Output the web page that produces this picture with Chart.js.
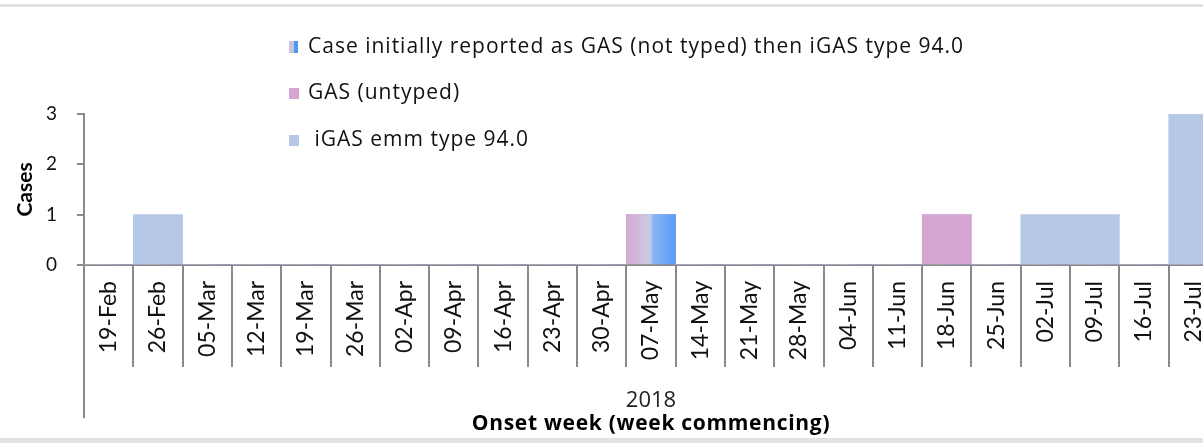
<!DOCTYPE html>
<html lang="en">
  <head>
    <meta charset="UTF-8" />
    <title>iGAS emm type 94.0 cases by onset week</title>
    <script src="https://cdn.jsdelivr.net/npm/chart.js"></script>
    <style>
      html,
      body {
        margin: 0;
        padding: 0;
        overflow: hidden;
        background: #fff;
      }
      .frame {
        position: relative;
        width: 1203px;
        height: 443px;
        overflow: hidden;
      }
      .frame::before,
      .frame::after {
        content: "";
        position: absolute;
        left: 0;
        right: 0;
        height: 3px;
        background: #e2e2e2;
        z-index: 2;
      }
      .frame::before {
        top: 4px;
      }
      .frame::after {
        top: 438px;
        height: 5px;
      }
      #chart-cases {
        position: absolute;
        left: 0;
        top: 0;
      }
    </style>
  </head>
  <body>
    <div class="frame">
      <canvas id="chart-cases" width="1218" height="443"></canvas>
    </div>
    <script>
      const weeks = [
        "19-Feb", "26-Feb", "05-Mar", "12-Mar", "19-Mar", "26-Mar",
        "02-Apr", "09-Apr", "16-Apr", "23-Apr", "30-Apr", "07-May",
        "14-May", "21-May", "28-May", "04-Jun", "11-Jun", "18-Jun",
        "25-Jun", "02-Jul", "09-Jul", "16-Jul", "23-Jul",
      ];
      const reclassifiedCases = [0, 0, 0, 0, 0, 0, 0, 0, 0, 0, 0, 1, 0, 0, 0, 0, 0, 0, 0, 0, 0, 0, 0];
      const gasUntypedCases = [0, 0, 0, 0, 0, 0, 0, 0, 0, 0, 0, 0, 0, 0, 0, 0, 0, 1, 0, 0, 0, 0, 0];
      const igasCases = [0, 1, 0, 0, 0, 0, 0, 0, 0, 0, 0, 0, 0, 0, 0, 0, 0, 0, 0, 1, 1, 0, 3];
      const yTicks = [0, 1, 2, 3];
      const yearLabel = "2018";
      const xTitle = "Onset week (week commencing)";

      const FONT = "Lato, 'Open Sans', sans-serif";
      const WIDE_FONT = "'Open Sans', Lato, sans-serif";
      const AXIS_GREY = "#8a8a8a";

      function blendGradient(ctx, x0, x1) {
        const g = ctx.createLinearGradient(x0, 0, x1, 0);
        g.addColorStop(0, "#d7a8d3");
        g.addColorStop(0.48, "#c9cde4");
        g.addColorStop(0.55, "#86b5f2");
        g.addColorStop(1, "#5a9af6");
        return g;
      }

      // bar fill for the re-typed case: pink -> blue across the bar
      function reclassifiedFill(c) {
        const chart = c.chart;
        const x = chart.scales.x;
        if (!chart.chartArea || !x) return "#c9cde4";
        const half = (x.getPixelForValue(1) - x.getPixelForValue(0)) / 2;
        const mid = x.getPixelForValue(c.dataIndex);
        return blendGradient(chart.ctx, mid - half, mid + half);
      }

      // dividers under the axis, long left line, year + title, legend
      const decorations = {
        id: "decorations",
        afterDraw(chart) {
          const ctx = chart.ctx;
          const area = chart.chartArea;
          const x = chart.scales.x;
          const half = (x.getPixelForValue(1) - x.getPixelForValue(0)) / 2;

          ctx.save();
          ctx.strokeStyle = AXIS_GREY;
          ctx.lineWidth = 2;
          for (let i = 0; i <= weeks.length; i++) {
            const px = Math.round(x.getPixelForValue(i) - half);
            ctx.beginPath();
            ctx.moveTo(px, area.bottom);
            ctx.lineTo(px, area.bottom + (i === 0 ? 153 : 102));
            ctx.stroke();
          }
          // little tick through the axis at 0
          ctx.beginPath();
          ctx.moveTo(area.left - 7, area.bottom);
          ctx.lineTo(area.left, area.bottom);
          ctx.stroke();

          const cx = (area.left + area.right) / 2;
          ctx.fillStyle = "#222";
          ctx.textAlign = "center";
          ctx.textBaseline = "middle";
          ctx.font = "22px " + WIDE_FONT;
          ctx.fillText(yearLabel, cx, area.bottom + 136);
          ctx.font = "bold 21px " + WIDE_FONT;
          ctx.letterSpacing = "0.7px";
          ctx.fillStyle = "#000";
          ctx.fillText(xTitle, cx, area.bottom + 159);

          // legend, stacked vertically
          const lx = 289;
          const rows = [47, 93, 140];
          ctx.textAlign = "left";
          ctx.font = "21px " + WIDE_FONT;
          ctx.letterSpacing = "1px";
          chart.data.datasets.forEach((ds, i) => {
            const y = rows[i];
            if (i === 0) {
              ctx.fillStyle = "#c9c3e2";
              ctx.fillRect(lx, y - 6, 5, 12);
              ctx.fillStyle = "#4f95f4";
              ctx.fillRect(lx + 5, y - 6, 4, 12);
            } else {
              ctx.fillStyle = ds.backgroundColor;
              ctx.fillRect(lx, y - 5, 10, 11);
            }
            ctx.fillStyle = "#111";
            ctx.fillText(ds.label, lx + 19, y);
          });
          ctx.letterSpacing = "0px";
          ctx.restore();
        },
      };

      const ctxCases = document.getElementById("chart-cases").getContext("2d");
      new Chart(ctxCases, {
        type: "bar",
        data: {
          labels: weeks,
          datasets: [
            {
              label: "Case initially reported as GAS (not typed) then iGAS type 94.0",
              data: reclassifiedCases,
              backgroundColor: reclassifiedFill,
            },
            {
              label: "GAS (untyped)",
              data: gasUntypedCases,
              backgroundColor: "#d6a6d3",
            },
            {
              label: " iGAS emm type 94.0",
              data: igasCases,
              backgroundColor: "#b5c8e6",
            },
          ],
        },
        options: {
          responsive: false,
          animation: false,
          layout: { padding: { top: 114, left: 0, right: 0, bottom: 0 } },
          datasets: {
            bar: { barPercentage: 1, categoryPercentage: 1, borderWidth: 0 },
          },
          plugins: {
            legend: { display: false },
            tooltip: { enabled: false },
          },
          scales: {
            x: {
              stacked: true,
              afterFit: (s) => {
                s.height = 178;
                s.paddingLeft = 0;
                s.paddingRight = 0;
              },
              grid: { display: false, drawTicks: false },
              border: { display: true, color: AXIS_GREY, width: 2 },
              ticks: {
                autoSkip: false,
                minRotation: 90,
                maxRotation: 90,
                padding: 16,
                color: "#111",
                font: { family: FONT, size: 23 },
              },
            },
            y: {
              stacked: true,
              min: 0,
              max: 3,
              afterFit: (s) => {
                s.width = 84;
              },
              afterBuildTicks: (s) => {
                s.ticks = yTicks.map((v) => ({ value: v }));
              },
              grid: {
                drawOnChartArea: false,
                drawTicks: true,
                tickLength: 7,
                color: AXIS_GREY,
                lineWidth: 2,
              },
              border: { display: true, color: AXIS_GREY, width: 2 },
              ticks: {
                padding: 20,
                color: "#111",
                font: { family: FONT, size: 19 },
              },
              title: {
                display: true,
                text: "Cases",
                color: "#000",
                padding: { top: 13, bottom: 0 },
                font: { family: FONT, size: 21, weight: "bold" },
              },
            },
          },
        },
        plugins: [decorations],
      });
    </script>
  </body>
</html>
